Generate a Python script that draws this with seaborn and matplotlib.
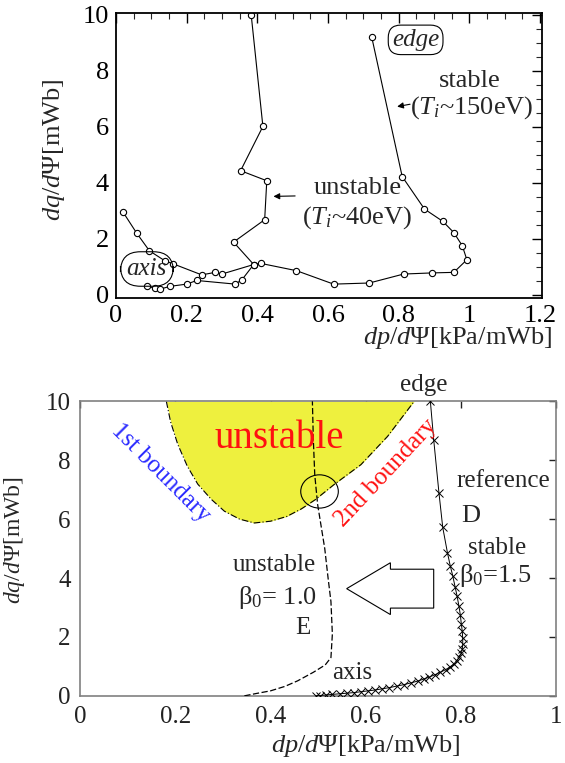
import matplotlib
matplotlib.use("Agg")
import matplotlib.pyplot as plt
import seaborn as sns
from matplotlib.ticker import MultipleLocator
from matplotlib.patches import Ellipse, FancyArrow

# ---------------- data: top panel ----------------
stable_x = [0.021, 0.059, 0.095, 0.139, 0.161, 0.243, 0.281, 0.30, 0.39, 0.41, 0.511, 0.616,
            0.717, 0.814, 0.894, 0.956, 0.993, 0.98, 0.956, 0.925, 0.873, 0.81, 0.724]
stable_y = [2.94, 2.20, 1.57, 1.21, 1.11, 0.71, 0.80, 0.74, 1.08, 1.12, 0.86, 0.38,
            0.42, 0.74, 0.78, 0.80, 1.25, 1.75, 2.22, 2.62, 3.06, 4.22, 9.19]
unstable_x = [0.087, 0.111, 0.125, 0.153, 0.20, 0.229, 0.338, 0.357, 0.39, 0.333, 0.421,
              0.427, 0.353, 0.416, 0.383]
unstable_y = [0.30, 0.24, 0.20, 0.30, 0.38, 0.51, 0.38, 0.54, 1.08, 1.88, 2.68,
              4.07, 4.43, 6.01, 9.98]
top_xticks = [0, 0.2, 0.4, 0.6, 0.8, 1.0, 1.2]
top_xticklabels = ["0", "0.2", "0.4", "0.6", "0.8", "1", "1.2"]
top_yticks = [0, 2, 4, 6, 8, 10]
top_yticklabels = ["0", "2", "4", "6", "8", "10"]

# ---------------- data: bottom panel ----------------
bound_x = [0.181, 0.19, 0.205, 0.225, 0.247, 0.275, 0.303, 0.335, 0.366, 0.40, 0.434,
           0.465, 0.494, 0.534, 0.59, 0.646, 0.702]
bound_y = [10.0, 9.3, 8.54, 7.8, 7.19, 6.68, 6.27, 6.0, 5.87, 5.93, 6.09,
           6.35, 6.66, 7.18, 7.85, 8.81, 10.0]
E_x = [0.345, 0.37, 0.40, 0.43, 0.457, 0.49, 0.515, 0.527, 0.530, 0.527, 0.521, 0.514,
       0.506, 0.499, 0.493, 0.490, 0.488]
E_y = [0.0, 0.08, 0.17, 0.32, 0.51, 0.80, 1.05, 1.3, 2.1, 3.2, 4.0, 5.0,
       5.8, 6.5, 7.5, 8.7, 10.0]
D_x = [0.736, 0.743, 0.754, 0.762, 0.772, 0.778, 0.783, 0.788, 0.792, 0.796, 0.799, 0.801,
       0.803, 0.804, 0.804, 0.803, 0.801, 0.797, 0.792, 0.785, 0.777, 0.768, 0.757, 0.746,
       0.734, 0.722, 0.709, 0.695, 0.680, 0.665, 0.650, 0.635, 0.620, 0.605, 0.590, 0.575,
       0.560, 0.545, 0.530, 0.516, 0.503, 0.495]
D_y = [10.0, 8.7, 6.9, 5.72, 4.85, 4.4, 4.08, 3.7, 3.4, 3.05, 2.75, 2.45,
       2.2, 1.95, 1.75, 1.58, 1.45, 1.32, 1.2, 1.08, 0.98, 0.89, 0.80, 0.72,
       0.64, 0.57, 0.50, 0.44, 0.38, 0.33, 0.28, 0.24, 0.20, 0.17, 0.14, 0.11,
       0.09, 0.07, 0.05, 0.03, 0.01, 0.0]
bot_xticks = [0, 0.2, 0.4, 0.6, 0.8, 1.0]
bot_xticklabels = ["0", "0.2", "0.4", "0.6", "0.8", "1"]
bot_yticks = [0, 2, 4, 6, 8, 10]
bot_yticklabels = ["0", "2", "4", "6", "8", "10"]

sns.set_theme(style="white")
plt.rcParams["font.family"] = ["Liberation Serif", "DejaVu Serif"]
plt.rcParams["mathtext.fontset"] = "custom"
plt.rcParams["mathtext.rm"] = "Liberation Serif"
plt.rcParams["mathtext.it"] = "Liberation Serif:italic"
plt.rcParams["mathtext.bf"] = "Liberation Serif:bold"

fig = plt.figure(figsize=(5.65, 7.63), dpi=100)
ax1 = fig.add_axes([0.205, 0.610, 0.754, 0.373])
ax2 = fig.add_axes([0.142, 0.088, 0.842, 0.386])

# ---------------- top panel ----------------
mk = dict(marker="o", markersize=4.5, markerfacecolor="white", markeredgecolor="black",
          markeredgewidth=0.8)
sns.lineplot(x=stable_x, y=stable_y, estimator=None, sort=False, ax=ax1, color="black",
             lw=0.8, **mk)
sns.lineplot(x=unstable_x, y=unstable_y, estimator=None, sort=False, ax=ax1, color="black",
             lw=0.8, **mk)
ax1.set_xlim(0, 1.205)
ax1.set_ylim(-0.1, 10.06)
ax1.set_xticks(top_xticks)
ax1.set_xticklabels(top_xticklabels)
ax1.set_yticks(top_yticks)
ax1.set_yticklabels(top_yticklabels)
ax1.xaxis.set_minor_locator(MultipleLocator(0.05))
ax1.yaxis.set_minor_locator(MultipleLocator(0.5))
ax1.tick_params(which="major", direction="in", top=True, right=True, length=7, width=1,
                labelsize=19, pad=5, colors="black")
ax1.tick_params(which="minor", direction="in", top=True, right=True, length=4, width=0.8)
for s in ax1.spines.values():
    s.set_color("black")
    s.set_linewidth(1.3)
ax1.set_ylabel(r"$dq/d\Psi$[mWb]", fontsize=19)
ax1.yaxis.set_label_coords(-0.115, 0.52)
ax1.set_xlabel(r"$dp/d\Psi$[kPa/mWb]", fontsize=19)
ax1.xaxis.set_label_coords(1.025, -0.143)
ax1.xaxis.label.set_ha("right")
ax1.xaxis.label.set_va("center")

ax1.text(0.848, 9.1, "edge", style="italic", fontsize=18, ha="center", va="center",
         bbox=dict(boxstyle="round,pad=0.15,rounding_size=0.5", fc="white", ec="black", lw=0.8))
ax1.text(1.0, 7.62, "stable", fontsize=19, ha="center", va="center")
ax1.text(1.006, 6.67, r"($T_i$~150eV)", fontsize=19, ha="center", va="center")
ax1.annotate("", xy=(0.788, 6.70), xytext=(0.84, 6.82),
             arrowprops=dict(arrowstyle="-|>", color="black", lw=0.8, mutation_scale=9))
ax1.text(0.683, 3.81, "unstable", fontsize=19, ha="center", va="center")
ax1.text(0.683, 2.74, r"($T_i$~40eV)", fontsize=19, ha="center", va="center")
ax1.annotate("", xy=(0.438, 3.51), xytext=(0.515, 3.53),
             arrowprops=dict(arrowstyle="-|>", color="black", lw=0.8, mutation_scale=9))
ax1.text(0.088, 0.92, "axis", style="italic", fontsize=18, ha="center", va="center",
         bbox=dict(boxstyle="round,pad=0.25,rounding_size=0.8", fc="none", ec="black", lw=0.8))

# ---------------- bottom panel ----------------
ax2.fill_between(bound_x, bound_y, 10, color="#eef03e", lw=0, zorder=1)
sns.lineplot(x=bound_x, y=bound_y, estimator=None, sort=False, ax=ax2, color="black",
             lw=0.8, linestyle=(0, (6, 2, 1, 2)), zorder=2)
sns.lineplot(x=E_x, y=E_y, estimator=None, sort=False, ax=ax2, color="black",
             lw=0.9, linestyle=(0, (5, 2)), zorder=3)
sns.lineplot(x=D_x, y=D_y, estimator=None, sort=False, ax=ax2, color="black",
             lw=0.7, marker="x", markersize=6, markeredgewidth=0.7,
             markeredgecolor="black", markerfacecolor="black", zorder=3)
ax2.set_xlim(0, 1)
ax2.set_ylim(0, 10)
ax2.set_xticks(bot_xticks)
ax2.set_xticklabels(bot_xticklabels)
ax2.set_yticks(bot_yticks)
ax2.set_yticklabels(bot_yticklabels)
ax2.tick_params(which="major", direction="in", top=True, right=True, length=5, width=1,
                labelsize=18, pad=7, colors="#222222")
for s in ax2.spines.values():
    s.set_color("#808080")
    s.set_linewidth(1.2)
ax2.set_ylabel(r"$dq/d\Psi$[mWb]", fontsize=17)
ax2.yaxis.set_label_coords(-0.112, 0.53)
ax2.set_xlabel(r"$dp/d\Psi$[kPa/mWb]", fontsize=19)
ax2.xaxis.set_label_coords(0.60, -0.17)
ax2.xaxis.label.set_va("center")

ax2.add_patch(Ellipse((0.503, 6.94), 0.079, 1.13, fill=False, ec="black", lw=0.8, zorder=4))
ax2.add_patch(FancyArrow(0.743, 3.64, -0.183, 0, width=1.32, head_width=1.76,
                         head_length=0.092, length_includes_head=True, fill=False,
                         ec="black", lw=0.8, zorder=4))

ax2.text(0.723, 10.55, "edge", fontsize=18, ha="center", va="center", clip_on=False)
ax2.text(0.419, 8.75, "unstable", fontsize=28, color="#ff1010", ha="center", va="center")
ax2.text(0.17, 7.57, "1st boundary", fontsize=18, color="#2a2aff", ha="center", va="center",
         rotation=-45, rotation_mode="anchor")
ax2.text(0.642, 7.57, "2nd boundary", fontsize=18, color="#ff1010", ha="center", va="center",
         rotation=47, rotation_mode="anchor")
ax2.text(0.89, 7.29, "reference", fontsize=18, ha="center", va="center")
ax2.text(0.82, 6.1, "D", fontsize=19, ha="center", va="center")
ax2.text(0.876, 5.03, "stable", fontsize=18, ha="center", va="center")
ax2.text(0.873, 4.07, r"β$_0$=1.5", fontsize=19, ha="center", va="center")
ax2.text(0.408, 4.46, "unstable", fontsize=18, ha="center", va="center")
ax2.text(0.415, 3.33, r"β$_0$= 1.0", fontsize=19, ha="center", va="center")
ax2.text(0.467, 2.3, "E", fontsize=18, ha="center", va="center")
ax2.text(0.572, 0.79, "axis", fontsize=18, ha="center", va="center")

fig.savefig("out.png", dpi=100)
